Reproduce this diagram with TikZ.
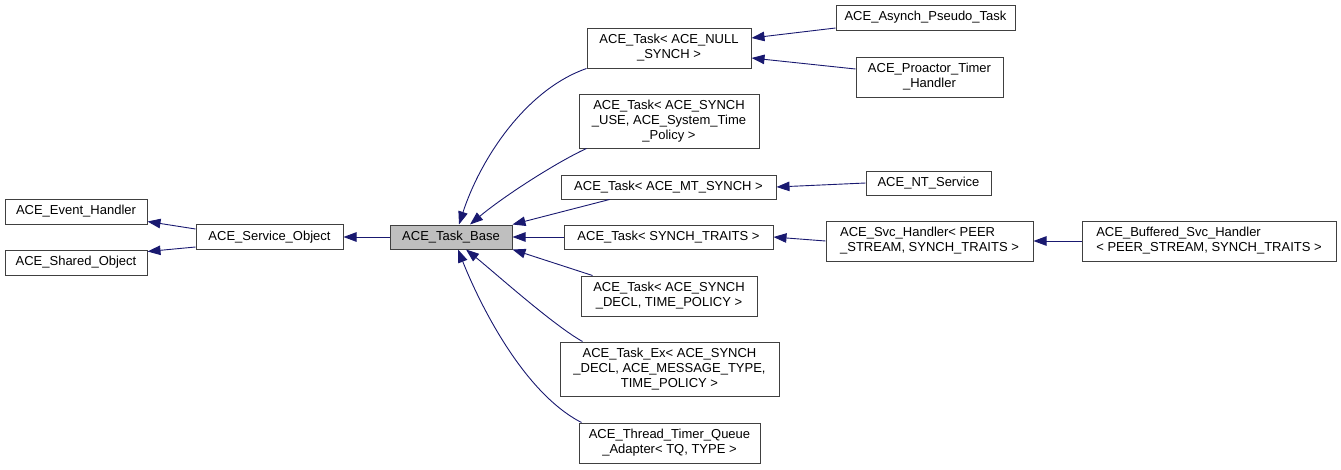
\documentclass[tikz,border=0pt]{standalone}
\usepackage{fontspec}
\setmainfont{Liberation Sans}
\usetikzlibrary{arrows.meta}
\definecolor{edgeblue}{HTML}{191970}
\definecolor{boxgray}{HTML}{BFBFBF}
\definecolor{boxline}{HTML}{404040}
\begin{document}
\begin{tikzpicture}[x=1pt,y=-1pt,
  cls/.style={draw=boxline, line width=1pt, fill=white, inner sep=0pt, align=center,
    font=\fontsize{13}{15}\selectfont},
  clsl/.style={cls, align=left},
  inh/.style={draw=edgeblue, line width=0.9pt, -{Triangle[length=13pt,width=9.5pt,fill=edgeblue]}}]
\useasboundingbox (0,0) rectangle (1341,469);
% nodes
\node[cls, minimum width=142pt, minimum height=25pt] (eh) at (76,211.5) {ACE\_Event\_Handler};
\node[cls, minimum width=142pt, minimum height=25pt] (so) at (76,262.5) {ACE\_Shared\_Object};
\node[cls, minimum width=147pt, minimum height=25pt] (svc) at (269.5,237) {ACE\_Service\_Object};
\node[cls, fill=boxgray, minimum width=122pt, minimum height=24pt] (tb) at (451,237) {ACE\_Task\_Base};
\node[cls, minimum width=164pt, minimum height=40pt] (null) at (669,48) {ACE\_Task< ACE\_NULL\\\_SYNCH >};
\node[cls, minimum width=180pt, minimum height=54pt] (use) at (669,121) {ACE\_Task< ACE\_SYNCH\\\_USE, ACE\_System\_Time\\\_Policy >};
\node[cls, minimum width=215pt, minimum height=24pt] (mt) at (668.5,187) {ACE\_Task< ACE\_MT\_SYNCH >};
\node[cls, minimum width=209pt, minimum height=24pt] (traits) at (668.5,237) {ACE\_Task< SYNCH\_TRAITS >};
\node[cls, minimum width=176pt, minimum height=40pt] (decl) at (669,296) {ACE\_Task< ACE\_SYNCH\\\_DECL, TIME\_POLICY >};
\node[cls, minimum width=219pt, minimum height=54pt] (ex) at (669.5,369) {ACE\_Task\_Ex< ACE\_SYNCH\\\_DECL, ACE\_MESSAGE\_TYPE,\\TIME\_POLICY >};
\node[cls, minimum width=181pt, minimum height=40pt] (tq) at (669.5,443) {ACE\_Thread\_Timer\_Queue\\\_Adapter< TQ, TYPE >};
\node[cls, minimum width=179pt, minimum height=25pt] (asy) at (925.5,17.5) {ACE\_Asynch\_Pseudo\_Task};
\node[cls, minimum width=147pt, minimum height=40pt] (pro) at (929.5,77) {ACE\_Proactor\_Timer\\\_Handler};
\node[cls, minimum width=125pt, minimum height=24pt] (nt) at (928.5,183) {ACE\_NT\_Service};
\node[clsl, minimum width=207pt, minimum height=40pt] (sh) at (929.5,241) {ACE\_Svc\_Handler< PEER\\\_STREAM, SYNCH\_TRAITS >};
\node[clsl, minimum width=254pt, minimum height=40pt] (buf) at (1209,241) {ACE\_Buffered\_Svc\_Handler\\< PEER\_STREAM, SYNCH\_TRAITS >};
% edges
\draw[inh] ([yshift=8pt]svc.west) -- ([yshift=-10pt]eh.east);
\draw[inh] ([yshift=-10pt]svc.west) -- ([yshift=11pt]so.east);
\draw[inh] (tb.west) -- (svc.east);
\draw[inh] (null.south west) .. controls (525,90) and (480,160) .. ([xshift=8pt]tb.north);
\draw[inh] ([xshift=8pt]use.south west) .. controls (557,162) and (504,196) .. ([xshift=19pt]tb.north);
\draw[inh] ([xshift=49pt]mt.south west) -- (tb.north east);
\draw[inh] (traits.west) -- (tb.east);
\draw[inh] ([xshift=12pt]decl.north west) -- (tb.south east);
\draw[inh] ([xshift=23pt]ex.north west) .. controls (553,325) and (494,272) .. ([xshift=15pt]tb.south);
\draw[inh] ([xshift=3pt]tq.north west) .. controls (522,392) and (478,300) .. ([xshift=7pt]tb.south);
\draw[inh] ([yshift=-10.5pt]asy.west) -- ([yshift=10pt]null.east);
\draw[inh] ([yshift=8pt]pro.west) -- ([yshift=-10pt]null.east);
\draw[inh] (nt.west) -- (mt.east);
\draw[inh] (sh.west) -- (traits.east);
\draw[inh] (buf.west) -- (sh.east);
\end{tikzpicture}
\end{document}
